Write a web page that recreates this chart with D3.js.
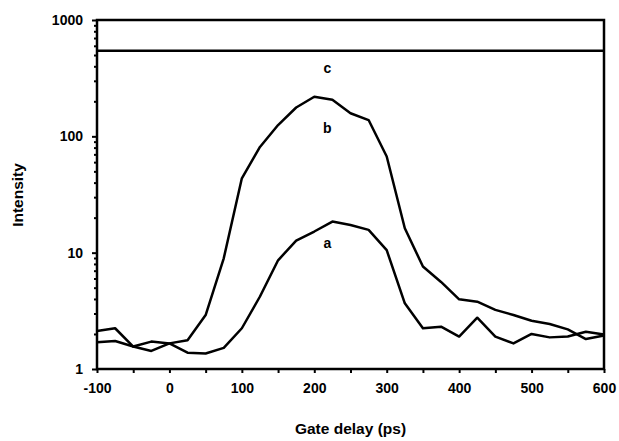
<!DOCTYPE html>
<html>
<head>
<meta charset="utf-8">
<script src="https://cdn.jsdelivr.net/npm/d3@7"></script>
<style>
  body { margin: 0; background: #fff; }
  text { font-family: "Liberation Sans", Arial, sans-serif; font-weight: bold; }
</style>
</head>
<body>
<div id="chart"></div>
<script>
// gate delay (ps), one point every 25 ps
var delays = d3.range(-100, 601, 25);

var seriesA = [1.70, 1.74, 1.56, 1.72, 1.66, 1.38, 1.36, 1.52, 2.24, 4.2, 8.6, 12.7,
               15.2, 18.5, 17.3, 15.7, 10.5, 3.67, 2.24, 2.31, 1.90, 2.76, 1.90, 1.66,
               2.00, 1.87, 1.90, 2.09, 1.98];
var seriesB = [2.12, 2.24, 1.56, 1.43, 1.66, 1.77, 2.91, 8.95, 43.6, 81, 125, 177,
               219, 206, 158, 138, 67, 16.2, 7.6, 5.6, 3.97, 3.79, 3.22, 2.91,
               2.60, 2.44, 2.19, 1.81, 1.94];
var seriesC = [545, 545];
var seriesCx = [-100, 600];

var xTicks = [-100, 0, 100, 200, 300, 400, 500, 600];
var yTicks = [1, 10, 100, 1000];

var curveLabels = [
    {name: 'c', x: 218, y: 387},
    {name: 'b', x: 218, y: 118},
    {name: 'a', x: 218, y: 12.0}
];

var width = 619, height = 441;
var margin = {left: 97, right: 15, top: 20, bottom: 72};
var chartWidth = width - margin.left - margin.right;
var chartHeight = height - margin.top - margin.bottom;

var svg = d3.select('#chart').append('svg')
    .attr('width', width)
    .attr('height', height);

var g = svg.append('g')
    .attr('transform', 'translate(' + margin.left + ',' + margin.top + ')');

var xScale = d3.scaleLinear().domain([-100, 600]).range([0, chartWidth]);
var yScale = d3.scaleLog().domain([1, 1000]).range([chartHeight, 0]);

// minor ticks on y: 2..9 of each decade
var yMinor = [];
[1, 10, 100].forEach(function(d) {
    for (var k = 2; k <= 9; k++) yMinor.push(d * k);
});

var yAxisMinor = d3.axisLeft(yScale).tickValues(yMinor).tickSize(3).tickFormat('');
var yAxis = d3.axisLeft(yScale).tickValues(yTicks).tickSize(5).tickPadding(9)
    .tickFormat(d3.format('d'));
var xAxis = d3.axisBottom(xScale).tickValues(d3.range(-100, 601, 50)).tickSize(4)
    .tickPadding(10)
    .tickFormat(function(d) { return xTicks.indexOf(d) >= 0 ? d : ''; });

g.append('g').attr('class', 'axis y minor').call(yAxisMinor);
g.append('g').attr('class', 'axis y').call(yAxis);
g.append('g').attr('class', 'axis x')
    .attr('transform', 'translate(0,' + chartHeight + ')')
    .call(xAxis);

g.selectAll('.axis path').remove();
g.selectAll('.axis line').attr('stroke', '#000').attr('stroke-width', 2);
g.selectAll('.axis text').attr('fill', '#000').style('font-size', '14px');

// frame
g.append('rect')
    .attr('x', 0).attr('y', 0)
    .attr('width', chartWidth).attr('height', chartHeight)
    .attr('fill', 'none')
    .attr('stroke', '#000')
    .attr('stroke-width', 2.5);

var line = d3.line()
    .x(function(d) { return xScale(d[0]); })
    .y(function(d) { return yScale(d[1]); });

[seriesA, seriesB].forEach(function(s) {
    g.append('path')
        .datum(delays.map(function(t, i) { return [t, s[i]]; }))
        .attr('d', line)
        .attr('fill', 'none')
        .attr('stroke', '#000')
        .attr('stroke-width', 2.5)
        .attr('stroke-linejoin', 'round');
});

g.append('path')
    .datum(seriesCx.map(function(t, i) { return [t, seriesC[i]]; }))
    .attr('d', line)
    .attr('fill', 'none')
    .attr('stroke', '#000')
    .attr('stroke-width', 2.5);

g.selectAll('.curveLabel').data(curveLabels).enter().append('text')
    .attr('class', 'curveLabel')
    .attr('x', function(d) { return xScale(d.x); })
    .attr('y', function(d) { return yScale(d.y); })
    .attr('dy', '0.35em')
    .attr('text-anchor', 'middle')
    .style('font-size', '14px')
    .text(function(d) { return d.name; });

// axis titles
svg.append('text')
    .attr('x', margin.left + xScale(250))
    .attr('y', 434)
    .attr('text-anchor', 'middle')
    .style('font-size', '15.5px')
    .text('Gate delay (ps)');

svg.append('text')
    .attr('transform', 'translate(23,195) rotate(-90)')
    .attr('text-anchor', 'middle')
    .style('font-size', '15.5px')
    .text('Intensity');
</script>
</body>
</html>
